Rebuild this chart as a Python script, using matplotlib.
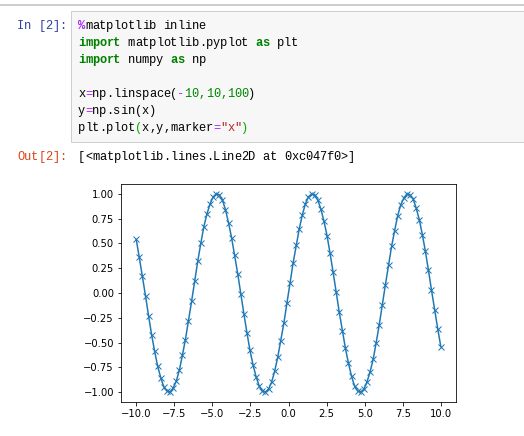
import matplotlib.pyplot as plt
from matplotlib.patches import Rectangle

# x = np.linspace(-10, 10, 100)
x = [-10.00, -9.80, -9.60, -9.39, -9.19, -8.99, -8.79, -8.59, -8.38, -8.18,
     -7.98, -7.78, -7.58, -7.37, -7.17, -6.97, -6.77, -6.57, -6.36, -6.16,
     -5.96, -5.76, -5.56, -5.35, -5.15, -4.95, -4.75, -4.55, -4.34, -4.14,
     -3.94, -3.74, -3.54, -3.33, -3.13, -2.93, -2.73, -2.53, -2.32, -2.12,
     -1.92, -1.72, -1.52, -1.31, -1.11, -0.91, -0.71, -0.51, -0.30, -0.10,
     0.10, 0.30, 0.51, 0.71, 0.91, 1.11, 1.31, 1.52, 1.72, 1.92,
     2.12, 2.32, 2.53, 2.73, 2.93, 3.13, 3.33, 3.54, 3.74, 3.94,
     4.14, 4.34, 4.55, 4.75, 4.95, 5.15, 5.35, 5.56, 5.76, 5.96,
     6.16, 6.36, 6.57, 6.77, 6.97, 7.17, 7.37, 7.58, 7.78, 7.98,
     8.18, 8.38, 8.59, 8.79, 8.99, 9.19, 9.39, 9.60, 9.80, 10.00]

y = [0.54, 0.36, 0.17, -0.03, -0.23, -0.42, -0.59, -0.74, -0.86, -0.95,
     -0.99, -1.00, -0.96, -0.89, -0.78, -0.63, -0.47, -0.28, -0.08, 0.12,
     0.32, 0.50, 0.67, 0.80, 0.90, 0.97, 1.00, 0.99, 0.94, 0.84,
     0.71, 0.56, 0.38, 0.19, -0.01, -0.21, -0.40, -0.58, -0.73, -0.85,
     -0.94, -0.99, -1.00, -0.97, -0.90, -0.79, -0.65, -0.48, -0.30, -0.10,
     0.10, 0.30, 0.48, 0.65, 0.79, 0.90, 0.97, 1.00, 0.99, 0.94,
     0.85, 0.73, 0.58, 0.40, 0.21, 0.01, -0.19, -0.38, -0.56, -0.71,
     -0.84, -0.94, -0.99, -1.00, -0.97, -0.90, -0.80, -0.67, -0.50, -0.32,
     -0.12, 0.08, 0.28, 0.47, 0.63, 0.78, 0.89, 0.96, 1.00, 0.99,
     0.95, 0.86, 0.74, 0.59, 0.42, 0.23, 0.03, -0.17, -0.36, -0.54]

# code cell text, split into (text, colour, bold) tokens per line
code_lines = [
    [("%", "#AA22FF", True), ("matplotlib inline", "#000000", False)],
    [("import", "#008000", True), (" matplotlib.pyplot ", "#000000", False),
     ("as", "#008000", True), (" plt", "#000000", False)],
    [("import", "#008000", True), (" numpy ", "#000000", False),
     ("as", "#008000", True), (" np", "#000000", False)],
    [],
    [("x", "#000000", False), ("=", "#AA22FF", False), ("np.linspace(", "#000000", False),
     ("-", "#AA22FF", False), ("10,10,100", "#008800", False), (")", "#000000", False)],
    [("y", "#000000", False), ("=", "#AA22FF", False), ("np.sin(x)", "#000000", False)],
    [("plt.plot", "#000000", False), ("(", "#00AA00", False), ("x,y,marker", "#000000", False),
     ("=", "#AA22FF", False), ('"x"', "#BA2121", False), (")", "#00AA00", False)],
]
out_text = "[<matplotlib.lines.Line2D at 0xc047f0>]"

W, H = 524, 436
fig = plt.figure(figsize=(W / 72, H / 72), dpi=72)

# page layer in pixel coordinates
bg = fig.add_axes([0, 0, 1, 1])
bg.set_xlim(0, W)
bg.set_ylim(H, 0)
bg.axis("off")

bg.plot([0, W], [4.5, 4.5], color="#BDBDBD", lw=1.5)
bg.add_patch(Rectangle((70.5, 10.5), 460, 131.5, facecolor="#F7F7F7",
                       edgecolor="#CFCFCF", lw=1))

mono = "Liberation Mono"
fs = 12
cw = 7.1  # character width in px
x0 = 78


def put(text, xs, ys, color, bold=False):
    # one glyph per cell so the columns stay on a fixed grid
    for i, ch in enumerate(text):
        if ch != " ":
            bg.text(xs + i * cw, ys, ch, color=color, family=mono, fontsize=fs,
                    fontweight="bold" if bold else "normal",
                    ha="left", va="baseline")


put("In [2]:", 17, 29, "#303F9F")
for k, line in enumerate(code_lines):
    col = 0
    for tok, c, b in line:
        put(tok, x0 + col * cw, 29 + 17 * k, c, b)
        col += len(tok)

put("Out[2]:", 17, 160, "#D84315")
put(out_text, x0, 160, "#000000")

# the plot itself
ax = fig.add_axes([121 / W, 1 - 402 / H, 335 / W, 218 / H])
ax.plot(x, y, marker="x")

fig.savefig("out.png", dpi=72)
